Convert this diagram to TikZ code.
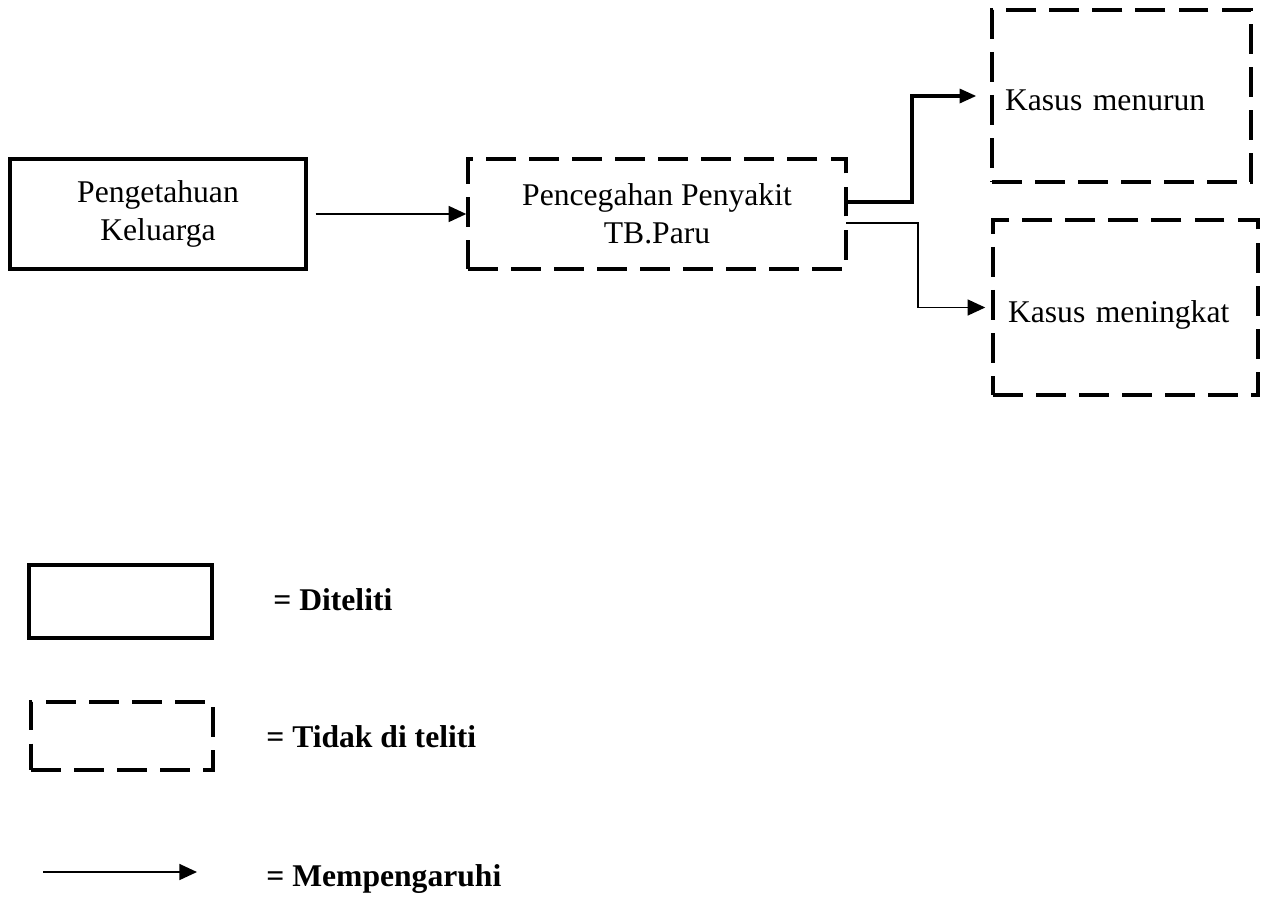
\documentclass[tikz,border=0pt]{standalone}
\usepackage{fontspec}
\setmainfont{Liberation Serif}
\usetikzlibrary{arrows.meta,positioning}

\tikzset{
	every node/.style = {font=\fontsize{18}{21.6}\selectfont, inner sep=0pt},
	researched/.style = {draw, line width=2pt, align=center},
	notresearched/.style = {draw, line width=2pt, dash pattern=on 17pt off 7.5pt, align=center},
	influence/.style = {line width=1.1pt, -{Triangle[length=10pt, width=9pt]}},
	boldinfluence/.style = {line width=1.8pt, -{Triangle[length=9.5pt, width=8pt]}},
	legendtext/.style = {anchor=base west, font=\fontsize{18}{21.6}\selectfont\bfseries}
}

\begin{document}
		\begin{tikzpicture}[x=0.02cm, y=-0.02cm]
		\useasboundingbox (0,0) rectangle (1265,897);
		
		% main boxes
		\node [researched, minimum width=5.92cm, minimum height=2.2cm] (pengetahuan) at (158, 214) {Pengetahuan\\Keluarga};
		\node [notresearched, minimum width=7.56cm, minimum height=2.2cm] (pencegahan) at (657, 214) {Pencegahan Penyakit\\TB.Paru};
		\node [notresearched, minimum width=5.18cm, minimum height=3.44cm, inner xsep=0.26cm, text width=4.66cm, text height=0.6cm, text depth=0.04cm, align=left] (menurun) at (1121.5, 96) {Kasus menurun};
		\node [notresearched, minimum width=5.3cm, minimum height=3.5cm, inner xsep=0.3cm, text width=4.7cm, text height=0.62cm, text depth=0.04cm, align=left] (meningkat) at (1125.5, 307.5) {Kasus meningkat};
		
		% connectors
		\coordinate (upout) at (846, 202);
		\coordinate (downout) at (846, 223);
		\draw [influence, shorten <=0.16cm] (pengetahuan.east) -- (pencegahan.west);
		\draw [boldinfluence, shorten >=0.28cm] (upout) -| (912, 150) |- (menurun.west);
		\draw [influence, line width=1pt, shorten >=0.12cm] (downout) -| (918, 260) |- (meningkat.west);
		
		% legend
		\node [researched, minimum width=3.66cm, minimum height=1.46cm] (legsolid) at (120.5, 601.5) {};
		\node [notresearched, minimum width=3.64cm, minimum height=1.36cm] (legdashed) at (122, 736) {};
		\coordinate (legarrowstart) at (43, 872);
		\coordinate (legarrowend) at (197, 872);
		\draw [influence] (legarrowstart) -- (legarrowend);
		\node [legendtext] (legsolidtext) at (273, 610) {= Diteliti};
		\node [legendtext] (legdashedtext) at (266, 747) {= Tidak di teliti};
		\node [legendtext] (legarrowtext) at (266, 886) {= Mempengaruhi};
		
		\end{tikzpicture}
\end{document}
